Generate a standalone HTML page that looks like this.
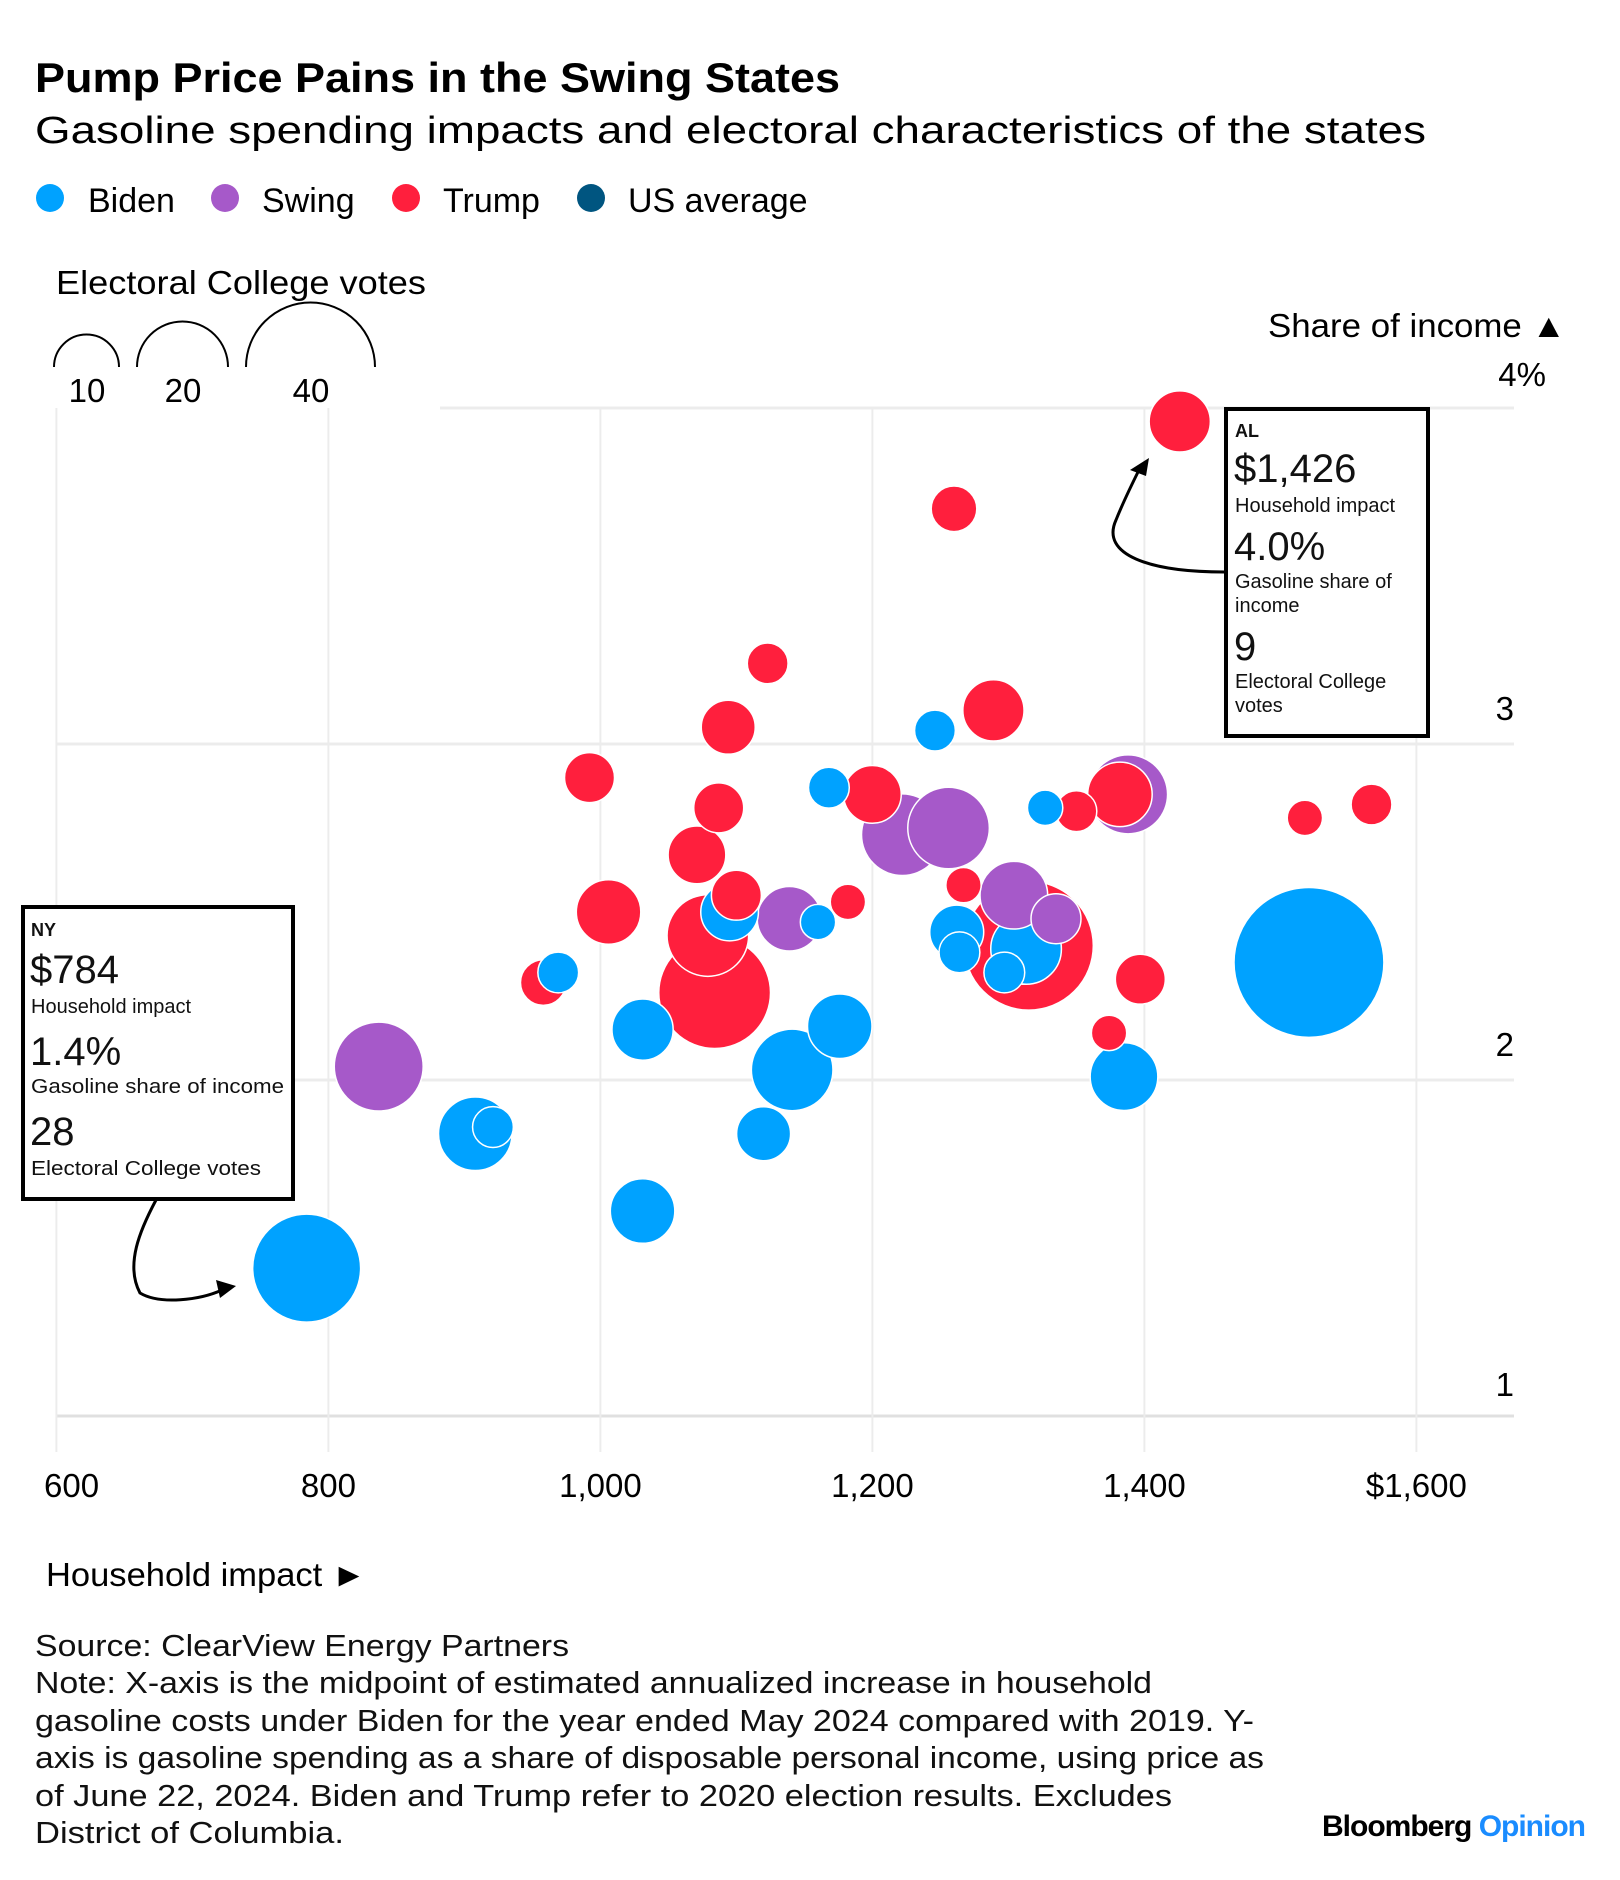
<!DOCTYPE html>
<html><head><meta charset="utf-8"><style>
html,body{margin:0;padding:0;background:#fff;}
svg{display:block;font-family:"Liberation Sans",Arial,sans-serif;}
</style></head><body>
<svg id="chart" width="1620" height="1880" viewBox="0 0 1620 1880" xmlns="http://www.w3.org/2000/svg">
<text x="35" y="92" font-size="42" font-weight="bold" fill="#000" textLength="805" lengthAdjust="spacingAndGlyphs">Pump Price Pains in the Swing States</text>
<text x="35" y="143" font-size="38" fill="#000" textLength="1391" lengthAdjust="spacingAndGlyphs">Gasoline spending impacts and electoral characteristics of the states</text>
<g font-size="34" fill="#000">
<circle cx="50" cy="198" r="14" fill="#00a2ff"/><text x="88" y="212">Biden</text>
<circle cx="225" cy="198" r="14" fill="#a659c9"/><text x="262" y="212">Swing</text>
<circle cx="406" cy="198" r="14" fill="#ff1f3d"/><text x="443" y="212">Trump</text>
<circle cx="591" cy="198" r="14" fill="#005580"/><text x="628" y="212">US average</text>
</g>
<g fill="none" stroke="#000" stroke-width="2">
<text x="56" y="294" font-size="33" fill="#000" stroke="none" textLength="370" lengthAdjust="spacingAndGlyphs">Electoral College votes</text>
<path d="M54,367 A32.5,32.5 0 0 1 119,367"/>
<path d="M137,367 A45.5,45.5 0 0 1 228,367"/>
<path d="M246,367 A64.5,64.5 0 0 1 375,367"/>
<text x="87" y="402" font-size="33" fill="#000" stroke="none" text-anchor="middle">10</text>
<text x="183" y="402" font-size="33" fill="#000" stroke="none" text-anchor="middle">20</text>
<text x="311" y="402" font-size="33" fill="#000" stroke="none" text-anchor="middle">40</text>
</g>
<text x="1268" y="337" font-size="33" fill="#000" textLength="298" lengthAdjust="spacingAndGlyphs">Share of income ▲</text>
<g id="grid"></g>
<g id="marks"></g>
<g id="ann">
<path d="M1224,572 C1150,572 1100,555 1116,520 C1124,500 1135,478 1140,468" fill="none" stroke="#000" stroke-width="3"/>
<path d="M1149,458 L1130,470 L1146,476 Z" fill="#000"/>
<rect x="1226" y="409" width="202" height="327" fill="#fff" stroke="#000" stroke-width="4"/>
<g fill="#111">
<text x="1235" y="437" font-size="18" font-weight="bold">AL</text>
<text x="1234" y="482" font-size="40">$1,426</text>
<text x="1235" y="512" font-size="20">Household impact</text>
<text x="1234" y="560" font-size="40">4.0%</text>
<text x="1235" y="588" font-size="20">Gasoline share of</text>
<text x="1235" y="612" font-size="20">income</text>
<text x="1234" y="660" font-size="40">9</text>
<text x="1235" y="688" font-size="20">Electoral College</text>
<text x="1235" y="712" font-size="20">votes</text>
</g>
<path d="M156,1200 C140,1230 125,1265 140,1293 C160,1305 200,1300 222,1290" fill="none" stroke="#000" stroke-width="3"/>
<path d="M236,1286 L216,1280 L220,1298 Z" fill="#000"/>
<rect x="23" y="907" width="270" height="292" fill="#fff" stroke="#000" stroke-width="4"/>
<g fill="#111">
<text x="31" y="936" font-size="18" font-weight="bold">NY</text>
<text x="30" y="983" font-size="40">$784</text>
<text x="31" y="1013" font-size="20">Household impact</text>
<text x="30" y="1065" font-size="40">1.4%</text>
<text x="31" y="1093" font-size="20" textLength="253" lengthAdjust="spacingAndGlyphs">Gasoline share of income</text>
<text x="30" y="1145" font-size="40">28</text>
<text x="31" y="1175" font-size="20" textLength="230" lengthAdjust="spacingAndGlyphs">Electoral College votes</text>
</g>
</g>
<text x="46" y="1586" font-size="33" fill="#000" textLength="320" lengthAdjust="spacingAndGlyphs">Household impact ►</text>
<g font-size="31" fill="#111" lengthAdjust="spacingAndGlyphs">
<text x="35" y="1656" textLength="534" lengthAdjust="spacingAndGlyphs">Source: ClearView Energy Partners</text>
<text x="35" y="1693" textLength="1117" lengthAdjust="spacingAndGlyphs">Note: X-axis is the midpoint of estimated annualized increase in household</text>
<text x="35" y="1731" textLength="1219" lengthAdjust="spacingAndGlyphs">gasoline costs under Biden for the year ended May 2024 compared with 2019. Y-</text>
<text x="35" y="1768" textLength="1229" lengthAdjust="spacingAndGlyphs">axis is gasoline spending as a share of disposable personal income, using price as</text>
<text x="35" y="1806" textLength="1137" lengthAdjust="spacingAndGlyphs">of June 22, 2024. Biden and Trump refer to 2020 election results. Excludes</text>
<text x="35" y="1843" textLength="309" lengthAdjust="spacingAndGlyphs">District of Columbia.</text>
</g>
<text x="1585" y="1836" font-size="30" font-weight="bold" text-anchor="end" fill="#000" letter-spacing="-1">Bloomberg <tspan fill="#1a8cff">Opinion</tspan></text>
</svg>
<script>
const NS="http://www.w3.org/2000/svg";
const xTicks=[600,800,1000,1200,1400,1600];
const xTickLabels=["600","800","1,000","1,200","1,400","$1,600"];
const yTicks=[1,2,3,4];
const yTickLabels=["1","2","3","4%"];
const groups=["biden","biden","biden","biden","biden","biden","biden","biden","biden","biden","biden","biden","biden","biden","biden","biden","biden","biden","biden","biden",
"swing","swing","swing","swing","swing","swing","swing",
"trump","trump","trump","trump","trump","trump","trump","trump","trump","trump","trump","trump","trump","trump","trump","trump","trump","trump","trump","trump","trump","trump","trump","trump",
"us"];
const impact=[784,1521,908,921,1031,1120,1031,1141,1176,969,1095,1160,1168,1246,1327,1262,1264,1313,1297,1385,
837,1222,1256,1139,1304,1335,1388,
1426,1260,1123,1094,1289,992,1087,1200,1071,1100,1006,1079,1084,1315,1182,1267,958,1350,1382,1397,1374,1518,1567,
1174];
const share=[1.44,2.35,1.84,1.86,1.61,1.84,2.15,2.03,2.16,2.32,2.50,2.47,2.87,3.04,2.81,2.44,2.38,2.39,2.32,2.01,
2.04,2.73,2.75,2.48,2.55,2.48,2.85,
3.96,3.70,3.24,3.05,3.10,2.90,2.81,2.85,2.67,2.55,2.50,2.43,2.26,2.40,2.53,2.58,2.29,2.80,2.85,2.30,2.14,2.78,2.82,
2.33];
const votes=[28,54,13,4,10,7,9,16,10,4,8,3,4,4,3,7,4,12,4,11,
19,16,16,10,11,6,15,
9,5,4,7,9,6,6,8,8,6,10,16,30,40,3,3,5,4,10,6,3,3,4,
0];
const colors={biden:"#00a2ff",swing:"#a659c9",trump:"#ff1f3d",us:"#005580"};
const X=v=>56.4+(v-600)*1.36;
const Y=v=>1416-(v-1)*336;
const R=v=>10.2*Math.sqrt(v);
const grid=document.getElementById('grid');
yTicks.forEach((t,i)=>{
  const l=document.createElementNS(NS,'line');
  
  
  l.setAttribute('x1',t===4?440:56);l.setAttribute('x2',1514);
  l.setAttribute('y1',Y(t));l.setAttribute('y2',Y(t));
  l.setAttribute('stroke',t===1?'#e0e0e0':'#ececec');l.setAttribute('stroke-width',3);
  grid.appendChild(l);
  const tx=document.createElementNS(NS,'text');
  
  
  tx.setAttribute('x',1514+(t===4?32:0));tx.setAttribute('y',t===4?Y(t)-22:(t===1?Y(t)-20:Y(t)-24));
  tx.setAttribute('text-anchor','end');tx.setAttribute('font-size','33');
  tx.textContent=yTickLabels[i];grid.appendChild(tx);
});
xTicks.forEach((t,i)=>{
  const l=document.createElementNS(NS,'line');
  
  
  l.setAttribute('x1',X(t));l.setAttribute('x2',X(t));
  l.setAttribute('y1',408);l.setAttribute('y2',1452);
  l.setAttribute('stroke','#ececec');l.setAttribute('stroke-width',2);
  grid.appendChild(l);
  const tx=document.createElementNS(NS,'text');
  
  
  tx.setAttribute('x',i===0?44:X(t));tx.setAttribute('y',1497);
  tx.setAttribute('text-anchor',i===0?'start':'middle');tx.setAttribute('font-size','33');
  tx.textContent=xTickLabels[i];grid.appendChild(tx);
});
const marks=document.getElementById('marks');
const idx=impact.map((_,i)=>i).sort((a,b)=>votes[b]-votes[a]);
idx.forEach(i=>{
  const c=document.createElementNS(NS,'circle');
  
  
  c.setAttribute('cx',X(impact[i]));c.setAttribute('cy',Y(share[i]));
  c.setAttribute('r',groups[i]==='us'?7:R(votes[i]));
  c.setAttribute('fill',colors[groups[i]]);
  if(groups[i]!=='us'){c.setAttribute('stroke','#fff');c.setAttribute('stroke-width','1.5');}
  marks.appendChild(c);
});
</script>
</body></html>
